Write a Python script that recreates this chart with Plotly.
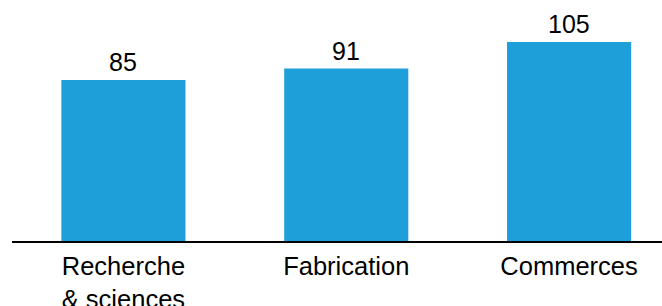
import plotly.graph_objects as go

categories = ["Recherche<br>& sciences", "Fabrication", "Commerces"]
values = [85, 91, 105]
value_labels = ["85", "91", "105"]

fig = go.Figure()
fig.add_trace(go.Bar(
    x=categories, y=values,
    marker=dict(color="#1E9FD9", line=dict(width=0)),
    width=0.557,
    cliponaxis=False,
    hoverinfo="skip",
))
for c, v, t in zip(categories, values, value_labels):
    fig.add_annotation(x=c, y=v, text=t, showarrow=False, yanchor="bottom",
                       yshift=3, borderpad=0,
                       font=dict(family="Liberation Sans, Arial", size=25, color="#000000"))
fig.update_layout(
    width=662, height=306,
    margin=dict(l=12, r=0, t=0, b=65),
    paper_bgcolor="white", plot_bgcolor="white",
    showlegend=False,
    font=dict(family="Liberation Sans, Arial", size=24, color="#000000"),
    xaxis=dict(range=[-0.5, 2.417], showline=True, linecolor="#000000", linewidth=2,
               showgrid=False, ticks="", zeroline=False, automargin=False,
               ticklabelstandoff=1,
               tickfont=dict(size=25.5, color="#000000")),
    yaxis=dict(range=[0, 127.2], visible=False, showgrid=False, zeroline=False,
               automargin=False),
)
fig.write_html("out.html", config={"displayModeBar": False},
               post_script="document.body.style.margin='0';document.body.style.overflow='hidden';")
